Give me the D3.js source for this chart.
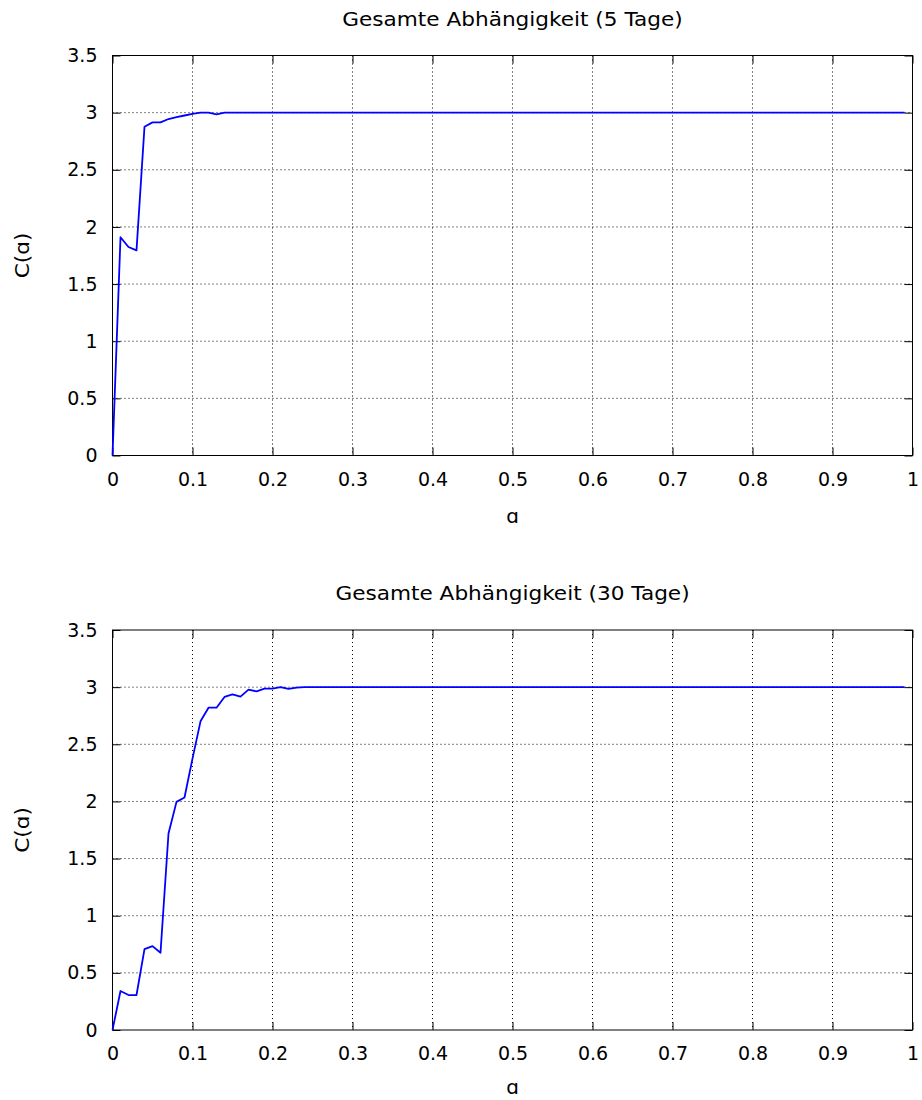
<!DOCTYPE html>
<html lang="de">
  <head>
    <meta charset="UTF-8" />
    <title>Gesamte Abhängigkeit</title>
    <style>
      body { margin: 0; background: #fff; }
      svg text { font-family: "DejaVu Sans", sans-serif; font-size: 19px; fill: #000; }
      .grid line { stroke: #000; stroke-width: 1; stroke-dasharray: 1 3; }
      .label { font-size: 20px; }
    </style>
    <script src="https://d3js.org/d3.v7.min.js"></script>
  </head>
  <body>
    <div id="chart"></div>
    <script>
      // alpha grid
      const alpha = [
        0, 0.01, 0.02, 0.03, 0.04, 0.05, 0.06, 0.07, 0.08, 0.09,
        0.1, 0.11, 0.12, 0.13, 0.14, 0.15, 0.16, 0.17, 0.18, 0.19,
        0.2, 0.21, 0.22, 0.23, 0.24, 0.25, 0.26, 0.27, 0.28, 0.29,
        0.3, 0.31, 0.32, 0.33, 0.34, 0.35, 0.36, 0.37, 0.38, 0.39,
        0.4, 0.41, 0.42, 0.43, 0.44, 0.45, 0.46, 0.47, 0.48, 0.49,
        0.5, 0.51, 0.52, 0.53, 0.54, 0.55, 0.56, 0.57, 0.58, 0.59,
        0.6, 0.61, 0.62, 0.63, 0.64, 0.65, 0.66, 0.67, 0.68, 0.69,
        0.7, 0.71, 0.72, 0.73, 0.74, 0.75, 0.76, 0.77, 0.78, 0.79,
        0.8, 0.81, 0.82, 0.83, 0.84, 0.85, 0.86, 0.87, 0.88, 0.89,
        0.9, 0.91, 0.92, 0.93, 0.94, 0.95, 0.96, 0.97, 0.98, 0.99
      ];

      const c5 = [
        0, 1.91, 1.824, 1.795, 2.877, 2.915, 2.915, 2.944, 2.96, 2.975,
        2.99, 3, 3, 2.985, 3, 3, 3, 3, 3, 3,
        3, 3, 3, 3, 3, 3, 3, 3, 3, 3,
        3, 3, 3, 3, 3, 3, 3, 3, 3, 3,
        3, 3, 3, 3, 3, 3, 3, 3, 3, 3,
        3, 3, 3, 3, 3, 3, 3, 3, 3, 3,
        3, 3, 3, 3, 3, 3, 3, 3, 3, 3,
        3, 3, 3, 3, 3, 3, 3, 3, 3, 3,
        3, 3, 3, 3, 3, 3, 3, 3, 3, 3,
        3, 3, 3, 3, 3, 3, 3, 3, 3, 3
      ];

      const c30 = [
        0, 0.341, 0.306, 0.306, 0.708, 0.734, 0.676, 1.719, 1.996, 2.034,
        2.375, 2.701, 2.82, 2.82, 2.914, 2.937, 2.917, 2.978, 2.963, 2.987,
        2.987, 3, 2.984, 2.995, 3, 3, 3, 3, 3, 3,
        3, 3, 3, 3, 3, 3, 3, 3, 3, 3,
        3, 3, 3, 3, 3, 3, 3, 3, 3, 3,
        3, 3, 3, 3, 3, 3, 3, 3, 3, 3,
        3, 3, 3, 3, 3, 3, 3, 3, 3, 3,
        3, 3, 3, 3, 3, 3, 3, 3, 3, 3,
        3, 3, 3, 3, 3, 3, 3, 3, 3, 3,
        3, 3, 3, 3, 3, 3, 3, 3, 3, 3
      ];

      const xTicks = [0, 0.1, 0.2, 0.3, 0.4, 0.5, 0.6, 0.7, 0.8, 0.9, 1];
      const yTicks = [0, 0.5, 1, 1.5, 2, 2.5, 3, 3.5];

      const panels = [
        { title: "Gesamte Abhängigkeit (5 Tage)", values: c5, top: 55.5, xLabelY: 67 },
        { title: "Gesamte Abhängigkeit (30 Tage)", values: c30, top: 630, xLabelY: 64 },
      ];

      const svg = d3
        .select("#chart")
        .append("svg")
        .attr("width", 922)
        .attr("height", 1100);

      const left = 112.5;
      const width = 800;
      const height = 400;

      // the reference text runs a little wider than DejaVu at the same height
      function widen(sel) {
        sel.each(function () {
          const w = this.getComputedTextLength();
          d3.select(this).attr("textLength", w * 1.08).attr("lengthAdjust", "spacingAndGlyphs");
        });
      }

      panels.forEach((p) => {
        const g = svg.append("g").attr("transform", `translate(${left},${p.top})`);

        const x = d3.scaleLinear().domain([0, 1]).range([0, width]);
        const y = d3.scaleLinear().domain([0, 3.5]).range([height, 0]);

        // grid
        const grid = g.append("g").attr("class", "grid");
        grid
          .selectAll(".gx")
          .data(xTicks.slice(1, -1))
          .enter()
          .append("line")
          .attr("x1", (d) => x(d))
          .attr("x2", (d) => x(d))
          .attr("y1", 0)
          .attr("y2", height);
        grid
          .selectAll(".gy")
          .data(yTicks.slice(1, -1))
          .enter()
          .append("line")
          .attr("x1", 0)
          .attr("x2", width)
          .attr("y1", (d) => y(d))
          .attr("y2", (d) => y(d));

        // axes with inward ticks (mirrored)
        const tick = 8;
        g.append("g")
          .attr("transform", `translate(0,${height})`)
          .call(d3.axisBottom(x).tickValues(xTicks).tickFormat(d3.format("")).tickSizeInner(-tick).tickSizeOuter(0).tickPadding(17))
          .call((a) => a.select(".domain").remove());
        g.append("g")
          .call(d3.axisTop(x).tickValues(xTicks).tickFormat("").tickSizeInner(-tick).tickSizeOuter(0))
          .call((a) => a.select(".domain").remove());
        g.append("g")
          .call(d3.axisLeft(y).tickValues(yTicks).tickFormat(d3.format("")).tickSizeInner(-tick).tickSizeOuter(0).tickPadding(15))
          .call((a) => a.select(".domain").remove());
        g.append("g")
          .attr("transform", `translate(${width},0)`)
          .call(d3.axisRight(y).tickValues(yTicks).tickFormat("").tickSizeInner(-tick).tickSizeOuter(0))
          .call((a) => a.select(".domain").remove());

        g.selectAll(".tick text").style("font-size", "19px").style("font-family", "DejaVu Sans, sans-serif");

        g.append("rect")
          .attr("width", width)
          .attr("height", height)
          .attr("fill", "none")
          .attr("stroke", "#000")
          .attr("stroke-width", 1);

        // series
        const line = d3
          .line()
          .x((d, i) => x(alpha[i]))
          .y((d) => y(d));
        g.append("path")
          .datum(p.values)
          .attr("fill", "none")
          .attr("stroke", "#0000ff")
          .attr("stroke-width", 1.8)
          .attr("stroke-linejoin", "round")
          .attr("d", line);

        // labels
        g.append("text")
          .attr("class", "label")
          .attr("x", width / 2)
          .attr("y", -30)
          .attr("text-anchor", "middle")
          .text(p.title)
          .call(widen);
        g.append("text")
          .attr("class", "label")
          .attr("x", width / 2)
          .attr("y", height + p.xLabelY)
          .attr("text-anchor", "middle")
          .text("ɑ");
        g.append("text")
          .attr("class", "label")
          .attr("transform", `translate(${-84},${height / 2}) rotate(-90)`)
          .attr("text-anchor", "middle")
          .text("C(ɑ)")
          .call(widen);
      });
    </script>
  </body>
</html>
